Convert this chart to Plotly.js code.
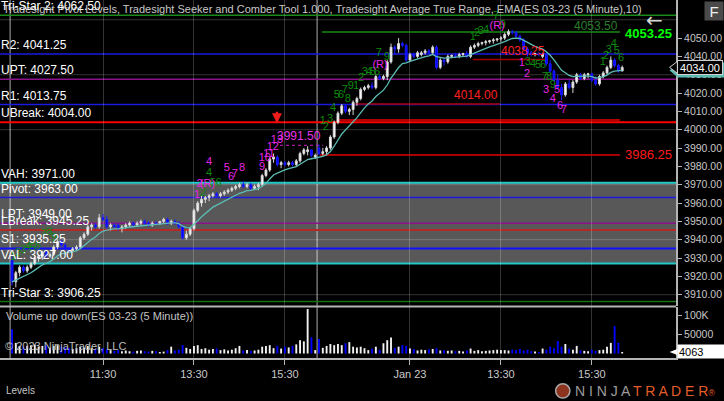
<!DOCTYPE html>
<html><head><meta charset="utf-8">
<script src="https://cdn.plot.ly/plotly-3.0.1.min.js"></script>
<style>html,body{margin:0;padding:0;background:#000;}#chart{width:724px;height:401px;}</style>
</head><body><div id="chart"></div>
<script>
// ---- data: 5-minute ES 03-23 bars (two RTH sessions) ----
const openP = [
3929,3917,3922,3925,3923,3925,3927,3930,3931,3933,
3931,3932,3936,3939,3937,3935,3934,3935,3936,3941,
3943,3947,3948,3947,3952,3951,3947,3948,3948,3946,
3947,3948,3949,3948,3949,3950,3949,3948,3949,3949,
3950,3951,3949,3950,3949,3947,3941,3943,3946,3956,
3960,3962,3963,3964,3965,3964,3965,3966,3967,3968,
3969,3970,3969,3970,3968,3969,3970,3975,3978,3984,
3985,3981,3982,3981,3982,3981,3983,3987,3988,3989,
3985,
3990,3987,3988,3990,3996,4004,4009,4013,4010,4011,
4015,4017,4022,4023,4024,4023,4029,4028,4029,4037,
4045,4044,4047,4046,4038,4041,4040,4041,4042,4043,
4042,4045,4034,4038,4037,4040,4040.5,4040,4041,4041.5,
4040,4045,4046,4047,4047.5,4048,4048.5,4049,4049.5,4050,
4052,4053.5,4053,4051,4049,4044,4042,4041,4041.5,4040,
4041,4036,4032,4027,4023,4019,4025,4023,4026,4030,
4028,4030,4030.5,4027,4025,4029,4031,4034,4038,4035,
4032];
const highP = [
3931,3923,3926,3926,3926,3928,3931,3932,3934,3934,
3933,3937,3940,3940,3938,3936,3936,3937,3942,3944,
3948,3949,3949,3954,3954,3953,3949,3949,3949,3948,
3949,3950,3950,3950,3951,3951,3950,3950,3950,3950,
3952,3952,3951,3951,3950,3948,3945,3947,3957,3961,
3964,3964,3965,3966,3966,3966,3967,3968,3969,3970,
3971,3972,3971,3971,3970,3971,3976,3979,3985,3987,
3986,3983,3983,3983,3983,3984,3988,3990,3991,3989,
3987,
3992,3990,3991,3997,4005,4010,4014,4014,4012,4016,
4018,4023,4024,4025,4026,4030,4030,4030,4038,4047,
4046,4050,4048,4047,4042,4042,4043,4043,4044,4044,
4046,4046,4039,4039,4041,4041,4042,4042,4042,4043,
4046,4047,4048,4048,4049,4049,4050,4050,4051,4053,
4054.75,4054.5,4054,4052,4050,4045,4043,4042,4042.5,4042,
4042,4038,4033,4030,4025,4026,4027,4027,4031,4031,
4031,4031,4031,4029,4030,4032,4035,4040,4039,4036,
4035];
const lowP = [
3915,3914,3920,3922,3922,3924,3926,3928,3929,3930,
3930,3931,3935,3936,3934,3933,3933,3934,3935,3940,
3942,3945,3946,3946,3950,3946,3945,3946,3945,3944,
3946,3947,3947,3947,3948,3948,3947,3947,3948,3948,
3949,3948,3948,3948,3946,3940,3940,3942,3945,3955,
3958,3960,3961,3963,3963,3963,3964,3965,3966,3967,
3968,3968,3968,3967,3967,3967,3969,3974,3977,3982,
3980,3979,3980,3980,3980,3980,3982,3986,3986,3985,
3984,
3986,3986,3986,3989,3995,4003,4008,4009,4008,4008,
4013,4016,4021,4022,4022,4022,4027,4027,4027,4036,
4041,4042,4045,4037,4037,4039,4039,4040,4041,4041,
4041,4033,4033,4035,4036,4039,4039,4039,4040,4039,
4039,4044,4045,4046,4046,4047,4047,4048,4048,4049,
4051,4052,4050,4048,4043,4040,4040,4040,4040,4039,
4035,4031,4026,4022,4016,4018,4022,4020,4025,4027,
4027,4028,4026,4024,4024,4028,4030,4033,4034,4031,
4032];
const closeP = [
3917,3922,3925,3923,3925,3927,3930,3931,3933,3931,
3932,3936,3939,3937,3935,3934,3935,3936,3941,3943,
3947,3948,3947,3952,3951,3947,3948,3947,3946,3947,
3948,3949,3948,3949,3950,3949,3948,3949,3948.5,3950,
3951,3949,3950,3949,3947,3941,3943,3946,3956,3960,
3962,3963,3964,3965,3964,3965,3966,3967,3968,3969,
3970,3969,3970,3968,3969,3970,3975,3978,3984,3985,
3981,3982,3981,3982,3981,3983,3987,3989,3989,3986,
3986,
3987,3988,3990,3996,4004,4009,4013,4010,4011,4015,
4017,4022,4023,4024,4023,4029,4028,4029,4037,4045,
4044,4047,4046,4038,4041,4040,4042,4042,4043,4042,
4045,4034,4038,4037,4040,4040.5,4040,4041,4041.5,4040,
4045,4046,4047,4047.5,4048,4048.5,4049,4049.5,4050,4052,
4053.5,4053,4051,4049,4044,4042,4041,4041.5,4041,4041,
4036,4032,4027,4023,4019,4025,4023,4026,4030,4028,
4030,4030.5,4027,4025,4029,4031,4034,4038,4035,4032,
4034];
const volumeThousands = [
64,28,20,18,20,22,24,18,20,22,
15,20,22,18,16,15,12,14,18,16,
20,14,12,18,14,12,9,7,9,6,
8,6,5,7,8,6,5,7,6,4,
5,9,18,8,10,22,15,12,20,22,
12,14,10,12,13,9,11,8,10,14,
20,8,9,7,8,10,18,20,22,14,
20,13,18,16,20,24,35,32,117,43,
9,
38,15,20,25,22,25,22,27,30,18,
16,18,14,9,13,18,10,27,35,42,
15,18,22,20,13,12,8,10,9,11,
12,14,8,9,7,8,6,7,5,8,
13,7,9,6,7,8,9,10,9,9,
8,10,9,12,8,10,6,5,4,13,
10,18,14,33,18,25,13,10,20,8,
7,6,10,7,9,10,18,28,72,28,
4.063];

const timeTickBars = [24, 48, 72, 105, 129, 153];
const timeTickLabels = ['11:30', '13:30', '15:30', 'Jan 23', '13:30', '15:30'];
const sessionBreakBars = [-0.5, 80.5];
const priceTicks = [3910,3920,3930,3940,3950,3960,3970,3980,3990,4000,4010,4020,4030,4040,4050];

const levelNames  = ['Tri-Star 2','R2','UPT','R1','UBreak','VAH','Pivot','LPT','LBreak','S1','VAL','Tri-Star 3'];
const levelValues = [4062.50,4041.25,4027.50,4013.75,4004.00,3971.00,3963.00,3949.00,3945.25,3935.25,3927.00,3906.25];

const segmentPrices    = [4053.25, 4005.25, 4014.00, 3986.25, 4038.25, 3991.50];
const segmentStartBars = [81.8, 85.7, 90.5, 81.2, 121.6, 70.7];
const segmentEndBars   = [160.4, 160.4, 128.7, 160.4, 141.1, 82.0];

const greenCountText  = ['1','2','3','4','5','6','7','8','9','2','4','5','6',
  '1','2','3','4','5','6','7','8','9','1','2','3','4','5','6','7','9',
  '1','2','3','4','7','9','3','4','5','6','7','8','9','1','2','3','4','5','6'];
const greenCountBars  = [0.3,1.6,2.9,4.2,5.5,6.8,8.4,9.8,11.1,50.4,52,53,54.5,
  82.0,82.8,83.9,84.7,85.7,86.8,87.8,88.6,89.4,90.8,92.1,93.1,94.2,95.2,96.3,96.8,98.9,
  121.6,122.7,123.7,125.1,127.7,129.5,136.1,137.5,138.8,140.1,140.6,141.7,142.7,155.9,156.7,157.5,158.8,159.6,160.7];
const greenCountPrices = [3930.5,3932.7,3934.4,3936,3935.5,3936.5,3943,3944.2,3941,3965.5,3976.4,3971,3971,
  4004.7,4001.5,4005.8,4011.8,4018.9,4018.9,4021.7,4016.7,4023.8,4023.8,4028.2,4031.5,4031.5,4031.5,4031.5,4041.8,4039.7,
  4050.6,4052.8,4053.9,4054.4,4062,4057.1,4036.9,4035.8,4035.3,4035.3,4028.8,4028.8,4024.4,4036.9,4040.2,4043.5,4046.7,4042.9,4039.1];

const magentaCountText  = ['1','2','(R)','4','5','6','7','8','9','10','11','12','13','(R)','(R)','1','2','3','4','5','6','7'];
const magentaCountBars  = [48.8,49.5,51.6,52,56.7,57.8,58.8,60.7,66,66.7,67.8,68.8,69.9,97.1,128,134.5,135.9,140.9,142.7,143.8,144.6,145.6];
const magentaCountPrices = [3964.4,3970.4,3970,3982.4,3979.1,3974.2,3975.8,3979.1,3979.7,3984.6,3986.7,3990.6,3994.4,4035.3,4056.6,4036.4,4030.4,4021.7,4016.7,4021.7,4012.9,4010.7];

const signalBars = [69.9];
const signalPrices = [4003.5];

// ---- indicator: EMA(10) of close ----
function emaOf(values, period) {
  const k = 2 / (period + 1); const out = [];
  values.forEach((v, i) => out.push(i === 0 ? v : v * k + out[i - 1] * (1 - k)));
  return out;
}
const emaLine = emaOf(closeP, 10);
const barIndex = closeP.map((_, i) => i);

const fam = 'Liberation Sans, Arial, sans-serif';
const levelStyle = {
  'Tri-Star 2': ['#1a8a1a', 1.5], 'R2': ['#1a1ae0', 1.5], 'UPT': ['#8a128a', 1.5],
  'R1': ['#1a1ae0', 1.5], 'UBreak': ['#ff0000', 2], 'VAH': ['#22c8c8', 2],
  'Pivot': ['#1a1ae0', 1.5], 'LPT': ['#8a128a', 1.5], 'LBreak': ['#b42828', 2],
  'S1': ['#1010ff', 2], 'VAL': ['#22c8c8', 2], 'Tri-Star 3': ['#137013', 1.5]
};
const segStyle = [
  ['#1a8a1a', 1.5, 'solid'], ['#ee0000', 1.5, 'solid'], ['#a80000', 1.5, 'solid'],
  ['#e00000', 1.5, 'solid'], ['#a00000', 1.5, 'solid'], ['#d020d0', 1, 'dot']
];

const traces = [
  { type: 'candlestick', x: barIndex, open: openP, high: highP, low: lowP, close: closeP,
    xaxis: 'x', yaxis: 'y', whiskerwidth: 0, hoverinfo: 'skip', showlegend: false,
    increasing: { line: { color: '#d8d8d8', width: 1 }, fillcolor: '#ffffff' },
    decreasing: { line: { color: '#1a1aff', width: 1 }, fillcolor: '#0000ff' } },
  { type: 'scatter', mode: 'lines', x: barIndex, y: emaLine, xaxis: 'x', yaxis: 'y',
    line: { color: '#5cbcb4', width: 1.3 }, hoverinfo: 'skip', showlegend: false },
  { type: 'bar', x: barIndex, y: volumeThousands.map(v => v * 1000), xaxis: 'x', yaxis: 'y2',
    width: 0.5, marker: { color: closeP.map((c, i) => c >= openP[i] ? '#f2f2f2' : '#0000ff') },
    hoverinfo: 'skip', showlegend: false },
  { type: 'scatter', mode: 'text', x: greenCountBars, y: greenCountPrices, text: greenCountText,
    textfont: { family: fam, size: 11, color: '#0f8a0f' }, xaxis: 'x', yaxis: 'y', hoverinfo: 'skip', showlegend: false },
  { type: 'scatter', mode: 'text', x: magentaCountBars, y: magentaCountPrices, text: magentaCountText,
    textfont: { family: fam, size: 11, color: '#e626e6' }, xaxis: 'x', yaxis: 'y', hoverinfo: 'skip', showlegend: false }
];

const shapes = [];
shapes.push({ type: 'rect', xref: 'paper', x0: 0, x1: 1, yref: 'y',
  y0: levelValues[levelNames.indexOf('VAL')], y1: levelValues[levelNames.indexOf('VAH')],
  fillcolor: '#585858', line: { width: 0 }, layer: 'below' });
for (let g = 3910; g <= 4060; g += 30) {
  shapes.push({ type: 'line', xref: 'paper', x0: 0, x1: 1, yref: 'y', y0: g, y1: g,
    line: { color: 'rgba(255,255,255,0.2)', width: 1 }, layer: 'below' });
}
sessionBreakBars.forEach(b => shapes.push({ type: 'line', xref: 'x', x0: b, x1: b, yref: 'paper', y0: 0, y1: 1,
  line: { color: 'rgba(255,255,255,0.45)', width: 1.5 }, layer: 'below' }));
levelNames.forEach((n, i) => shapes.push({ type: 'line', xref: 'paper', x0: 0, x1: 1, yref: 'y',
  y0: levelValues[i], y1: levelValues[i], line: { color: levelStyle[n][0], width: levelStyle[n][1] }, layer: 'between' }));
segmentPrices.forEach((p, i) => shapes.push({ type: 'line', xref: 'x', x0: segmentStartBars[i], x1: segmentEndBars[i],
  yref: 'y', y0: p, y1: p, line: { color: segStyle[i][0], width: segStyle[i][1], dash: segStyle[i][2] }, layer: 'between' }));
shapes.push({ type: 'line', xref: 'paper', x0: 0, x1: 1, yref: 'paper', y0: 0.1439, y1: 0.1439,
  line: { color: '#b4b4b4', width: 2 } });
const lastClose = closeP[closeP.length - 1];
const lastVol = volumeThousands[volumeThousands.length - 1] * 1000;
const lastEma = emaLine[emaLine.length - 1];
shapes.push({ type: 'path', xref: 'paper', yref: 'y', path: `M 0.9905,${lastEma} L 1.002,${lastEma + 3.6} L 1.002,${lastEma - 3.6} Z`,
  fillcolor: '#5cbcb4', line: { width: 0 } });
shapes.push({ type: 'path', xref: 'paper', yref: 'y', path: `M 0.9905,${lastClose} L 1.002,${lastClose + 3.2} L 1.002,${lastClose - 3.2} Z`,
  fillcolor: '#000', line: { color: '#d0d0d0', width: 1 } });
shapes.push({ type: 'path', xref: 'paper', yref: 'y2', path: `M 0.9905,${lastVol} L 1.002,${lastVol + 8000} L 1.002,${lastVol - 8000} Z`,
  fillcolor: '#ffffff', line: { width: 0 } });
shapes.push({ type: 'circle', xref: 'paper', yref: 'paper', x0: 0.822, x1: 0.843, y0: -0.112, y1: -0.072,
  fillcolor: 'rgba(190,70,40,0.75)', line: { color: '#a8a8a8', width: 1.5 } });

const annotations = [];
annotations.push({ xref: 'paper', yref: 'paper', x: 0, y: 1, xanchor: 'left', yanchor: 'top', xshift: 1, yshift: -1,
  showarrow: false, text: 'Tradesight Pivot Levels, Tradesight Seeker and Comber Tool 1.000, Tradesight Average True Range, EMA(ES 03-23 (5 Minute),10)',
  font: { family: fam, size: 11, color: '#c8c8c8' } });
levelNames.forEach((n, i) => annotations.push({ xref: 'paper', yref: 'y', x: 0, y: levelValues[i],
  xanchor: 'left', yanchor: 'bottom', showarrow: false, text: n + ': ' + levelValues[i].toFixed(2),
  font: { family: fam, size: 12, color: '#ffffff' }, borderpad: 0, yshift: 1 }));
annotations.push({ xref: 'x', yref: 'y', x: segmentEndBars[0], y: segmentPrices[0], xanchor: 'right', yanchor: 'bottom',
  showarrow: false, text: (segmentPrices[0] + 0.25).toFixed(2), font: { family: fam, size: 12, color: '#2a7d2a' }, yshift: -3 });
annotations.push({ xref: 'x', yref: 'y', x: segmentEndBars[0], y: segmentPrices[0], xanchor: 'left', yanchor: 'middle',
  showarrow: false, text: '<b>' + segmentPrices[0].toFixed(2) + '</b>', font: { family: fam, size: 13, color: '#00ff00' }, xshift: 3, yshift: -1 });
annotations.push({ xref: 'x', yref: 'y', x: segmentEndBars[3], y: segmentPrices[3], xanchor: 'left', yanchor: 'middle',
  showarrow: false, text: segmentPrices[3].toFixed(2), font: { family: fam, size: 13, color: '#ff1a1a' }, xshift: 3 });
annotations.push({ xref: 'x', yref: 'y', x: segmentEndBars[2], y: segmentPrices[2], xanchor: 'right', yanchor: 'bottom',
  showarrow: false, text: segmentPrices[2].toFixed(2), font: { family: fam, size: 12, color: '#ff2020' } });
annotations.push({ xref: 'x', yref: 'y', x: segmentEndBars[4], y: segmentPrices[4], xanchor: 'right', yanchor: 'bottom',
  showarrow: false, text: segmentPrices[4].toFixed(2), font: { family: fam, size: 12, color: '#ff2020' } });
annotations.push({ xref: 'x', yref: 'y', x: segmentEndBars[5], y: segmentPrices[5], xanchor: 'right', yanchor: 'bottom',
  showarrow: false, text: segmentPrices[5].toFixed(2), font: { family: fam, size: 12, color: '#e633e6' } });
signalBars.forEach((b, i) => annotations.push({ xref: 'x', yref: 'y', x: b, y: signalPrices[i], ax: 0, ay: -13,
  showarrow: true, arrowhead: 2, arrowsize: 0.8, arrowwidth: 2.5, arrowcolor: '#ee1c1c', text: '' }));
annotations.push({ xref: 'paper', yref: 'y', x: 1, y: lastEma, xanchor: 'left', yanchor: 'middle', xshift: 1, showarrow: false,
  text: lastEma.toFixed(2), bgcolor: '#5cbcb4', width: 44, height: 12, font: { family: fam, size: 11, color: '#000' } });
annotations.push({ xref: 'paper', yref: 'y', x: 1, y: lastClose, xanchor: 'left', yanchor: 'middle', xshift: 1, showarrow: false,
  text: lastClose.toFixed(2), bgcolor: '#000', bordercolor: '#d0d0d0', borderwidth: 1, width: 42, height: 11,
  font: { family: fam, size: 11, color: '#ffffff' } });
annotations.push({ xref: 'paper', yref: 'y2', x: 1, y: lastVol, xanchor: 'left', yanchor: 'middle', xshift: 1, showarrow: false,
  text: String(Math.round(lastVol)), bgcolor: '#ffffff', width: 44, height: 11, align: 'left',
  font: { family: fam, size: 11, color: '#000' } });
annotations.push({ xref: 'paper', yref: 'paper', x: 1.056, y: 0.970, xanchor: 'center', yanchor: 'middle', showarrow: false,
  text: 'F', bgcolor: '#4a4a4a', width: 16, height: 16, font: { family: fam, size: 15, color: '#f0f0f0' } });
annotations.push({ xref: 'paper', yref: 'paper', x: 0.9675, y: 0.944, xanchor: 'center', yanchor: 'middle', showarrow: false,
  text: '←', font: { family: 'DejaVu Sans', size: 20, color: '#d8d8d8' } });
annotations.push({ xref: 'paper', yref: 'paper', x: 0, y: 0.1173, xanchor: 'left', yanchor: 'middle', xshift: 4, showarrow: false,
  text: 'Volume up down(ES 03-23 (5 Minute))', font: { family: fam, size: 11, color: '#c4c4c4' } });
annotations.push({ xref: 'paper', yref: 'paper', x: 0, y: 0.034, xanchor: 'left', yanchor: 'middle', xshift: 3, showarrow: false,
  text: '© 2023 NinjaTrader, LLC', font: { family: fam, size: 11, color: '#bdbdbd' } });
annotations.push({ xref: 'paper', yref: 'paper', x: 0, y: -0.092, xanchor: 'left', yanchor: 'middle', xshift: 4, showarrow: false,
  text: 'Levels', font: { family: fam, size: 10, color: '#c4c4c4' } });
annotations.push({ xref: 'paper', yref: 'paper', x: 0.847, y: -0.092, xanchor: 'left', yanchor: 'middle', showarrow: false,
  text: '<span style="color:#9c9c9c">N I N J A </span><span style="color:#e35d2a">T R A D E R</span><span style="color:#e35d2a;font-size:9px">®</span>',
  font: { family: fam, size: 14, color: '#9c9c9c' } });

const axisFont = { family: fam, size: 10.5, color: '#c8c8c8' };
const layout = {
  width: 724, height: 401,
  margin: { l: 0, r: 48, t: 0, b: 43, pad: 0 },
  paper_bgcolor: '#000', plot_bgcolor: '#000',
  showlegend: false, hovermode: false, dragmode: false,
  xaxis: { domain: [0, 1], range: [-3.18, 175.2], anchor: 'y2', tickvals: timeTickBars, ticktext: timeTickLabels,
    showgrid: true, gridcolor: 'rgba(255,255,255,0.2)', gridwidth: 1, ticks: 'outside', ticklen: 5, tickcolor: '#b4b4b4',
    tickfont: { family: fam, size: 11, color: '#c8c8c8' }, showline: true, linecolor: '#b4b4b4', linewidth: 2, zeroline: false, automargin: false,
    rangeslider: { visible: false }, fixedrange: true },
  yaxis: { domain: [0.14525, 1], range: [3903.82, 4070.76], side: 'right', anchor: 'x', tickvals: priceTicks,
    ticktext: priceTicks.map(v => v.toFixed(2)), showgrid: false, ticks: 'outside', ticklen: 4, tickcolor: '#b4b4b4',
    tickfont: axisFont, showline: true, linecolor: '#b4b4b4', linewidth: 2, zeroline: false, automargin: false, fixedrange: true },
  yaxis2: { domain: [0, 0.14246], range: [-11800, 122400], side: 'right', anchor: 'x', tickvals: [50000, 100000],
    ticktext: ['50000', '100K'], showgrid: false, ticks: 'outside', ticklen: 4, tickcolor: '#b4b4b4',
    tickfont: axisFont, showline: true, linecolor: '#b4b4b4', linewidth: 2, zeroline: false, automargin: false, fixedrange: true },
  shapes: shapes,
  annotations: annotations
};

Plotly.newPlot('chart', traces, layout, { staticPlot: true, displayModeBar: false });
</script>
</body></html>
